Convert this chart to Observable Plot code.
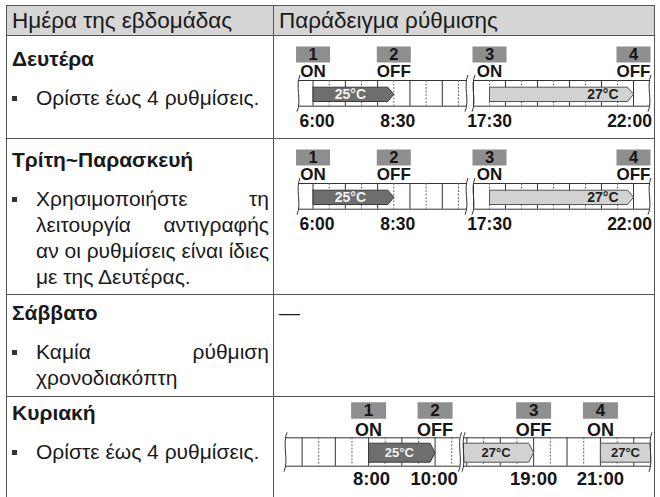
<!DOCTYPE html>
<html>
<head>
<meta charset="utf-8">
<script src="https://cdn.jsdelivr.net/npm/d3@7"></script>
<script src="https://cdn.jsdelivr.net/npm/@observablehq/plot@0.6"></script>
<style>
html, body { margin: 0; padding: 0; background: #fff; width: 660px; height: 497px; overflow: hidden; }
body { position: relative; font-family: "Liberation Sans", Arial, sans-serif; color: #1a1a1a; }
#tbl { position: absolute; left: 6px; top: 5px; border-collapse: collapse; table-layout: fixed; width: 649px; }
#tbl td { border: 1px solid #555; padding: 0; vertical-align: top; overflow: hidden; }
#tbl tr.hd td { background: #d6d6d6; font-size: 22.5px; line-height: 29px; padding-left: 5px; white-space: nowrap; }
.ttl { font-weight: bold; font-size: 21px; line-height: 26px; padding-left: 5px; white-space: nowrap; }
.bl { position: relative; margin-top: 13px; padding-left: 29px; width: 233px; font-size: 21px; line-height: 26px; }
.bl .sq { position: absolute; left: 5px; top: 11px; width: 5px; height: 5px; background: #333; }
.bl .j { text-align: justify; text-align-last: justify; white-space: nowrap; }
.bl .l { text-align: left; white-space: nowrap; }
.dash { font-size: 21px; line-height: 26px; padding-left: 5px; }
.dg { position: absolute; left: 275px; }
</style>
</head>
<body>
<table id="tbl"><colgroup><col style="width:267px"><col style="width:381px"></colgroup><tbody></tbody></table>
<script>
// ---------- table content ----------
const headers = ["Ημέρα της εβδομάδας", "Παράδειγμα ρύθμισης"];
const days = ["Δευτέρα", "Τρίτη~Παρασκευή", "Σάββατο", "Κυριακή"];
const notes = [
  [["Ορίστε έως 4 ρυθμίσεις.", "l"]],
  [["Χρησιμοποιήστε τη", "j"], ["λειτουργία αντιγραφής", "j"], ["αν οι ρυθμίσεις είναι ίδιες", "j"], ["με της Δευτέρας.", "l"]],
  [["Καμία ρύθμιση", "j"], ["χρονοδιακόπτη", "l"]],
  [["Ορίστε έως 4 ρυθμίσεις.", "l"]]
];
const saturdayNote = "—";

// layout (styling only)
const rowHeights = [30, 103, 156, 102, 120];
const titlePad = [10, 8, 5, 3];

const tbody = document.querySelector("#tbl tbody");
{
  const tr = document.createElement("tr");
  tr.className = "hd"; tr.style.height = rowHeights[0] + "px";
  headers.forEach(h => { const td = document.createElement("td"); td.textContent = h; tr.appendChild(td); });
  tbody.appendChild(tr);
}
days.forEach((d, i) => {
  const tr = document.createElement("tr");
  tr.style.height = rowHeights[i + 1] + "px";
  const td = document.createElement("td");
  const t = document.createElement("div");
  t.className = "ttl"; t.style.paddingTop = titlePad[i] + "px"; t.textContent = d;
  td.appendChild(t);
  const bl = document.createElement("div"); bl.className = "bl";
  const sq = document.createElement("span"); sq.className = "sq"; bl.appendChild(sq);
  notes[i].forEach(([txt, cls]) => { const ln = document.createElement("div"); ln.className = cls; ln.textContent = txt; bl.appendChild(ln); });
  td.appendChild(bl);
  tr.appendChild(td);
  const td2 = document.createElement("td");
  if (i === 2) { const s = document.createElement("div"); s.className = "dash"; s.style.paddingTop = titlePad[i] + "px"; s.textContent = saturdayNote; td2.appendChild(s); }
  tr.appendChild(td2);
  tbody.appendChild(tr);
});

// ---------- timer diagrams data ----------
const weekdayNumbers = ["1", "2", "3", "4"];
const weekdayStates = ["ON", "OFF", "ON", "OFF"];
const weekdayTimes = [6, 8.5, 17.5, 22];
const weekdayTimeLabels = ["6:00", "8:30", "17:30", "22:00"];
const weekdayBars = [
  { from: 6, to: 8.5, temp: "25°C", tone: "dark", tip: true },
  { from: 17.5, to: 22, temp: "27°C", tone: "light", tip: true }
];
const weekdaySegments = [[5.55, 10.75], [17.0, 22.5]];
const weekdayGrid = [6, 6.5, 7, 7.5, 8, 8.5, 9, 9.5, 10, 10.5, 17, 17.5, 18, 18.5, 19, 19.5, 20, 20.5, 21, 21.5, 22];

const sundayNumbers = ["1", "2", "3", "4"];
const sundayStates = ["ON", "OFF", "OFF", "ON"];
const sundayTimes = [8, 10, 19, 21];
const sundayTimeLabels = ["8:00", "10:00", "19:00", "21:00"];
const sundayBars = [
  { from: 8, to: 10, temp: "25°C", tone: "dark", tip: true },
  { from: 16.9, to: 19, temp: "27°C", tone: "light", tip: true },
  { from: 21, to: 22.5, temp: "27°C", tone: "light", tip: false }
];
const sundaySegments = [[5.5, 10.75], [16.9, 22.5]];
const sundayGrid = [6, 6.5, 7, 7.5, 8, 8.5, 9, 9.5, 10, 10.5, 17, 17.5, 18, 18.5, 19, 19.5, 20, 20.5, 21, 21.5, 22];

// ---------- styles / layout per diagram ----------
const OFFX = 275;
const weekdayLayout = {
  H: 103, xRangePage: [298, 466, 473, 649],
  boxY: 19, boxW: 34, boxH: 16, digitY: 19, digitSize: 16.5,
  stateY: 36.5, stateSize: 17, stripTop: 45, stripBot: 70.7,
  barTop: 51.7, barBot: 66, barSize: 14, timeY: 86, timeSize: 17.5, tip: 6,
  timeDx: [4, 4, 0, -4], barAlign: ["middle", "end"]
};
const sundayLayout = {
  H: 101, xRangePage: [285, 459.5, 463, 650],
  boxY: 14, boxW: 35, boxH: 16.6, digitY: 14, digitSize: 17,
  stateY: 33.5, stateSize: 18, stripTop: 41.3, stripBot: 69.7,
  barTop: 46.7, barBot: 65.7, barSize: 13, timeY: 82.3, timeSize: 18.5, tip: 5,
  timeDx: [3, -1, 0, 0], barAlign: ["middle", "middle", "middle"]
};

function diagram(numbers, states, times, timeLabels, bars, segments, grid, L) {
  const domain = [segments[0][0], segments[0][1], segments[1][0], segments[1][1]];
  const range = L.xRangePage.map(v => v - OFFX);
  const xs = d3.scaleLinear().domain(domain).range(range);
  const mid = (L.barTop + L.barBot) / 2;
  const stripMid = (L.stripTop + L.stripBot) / 2;
  const events = numbers.map((n, i) => ({ n, state: states[i], t: times[i], label: timeLabels[i] }));

  const polys = [];
  const barLabels = [];
  bars.forEach((b, i) => {
    const bodyEnd = b.tip ? xs.invert(xs(b.to) - L.tip) : b.to;
    const pts = b.tip
      ? [[b.from, L.barTop], [bodyEnd, L.barTop], [b.to, mid], [bodyEnd, L.barBot], [b.from, L.barBot], [b.from, L.barTop]]
      : [[b.from, L.barTop], [b.to, L.barTop], [b.to, L.barBot], [b.from, L.barBot], [b.from, L.barTop]];
    pts.forEach(p => polys.push({ bar: i, tone: b.tone, x: p[0], y: p[1] }));
    const align = L.barAlign[i];
    barLabels.push({ tone: b.tone, temp: b.temp, x: align === "end" ? bodyEnd : (b.from + bodyEnd) / 2, anchor: align });
  });

  const edges = segments.flat();
  const stripLines = segments.flatMap(s => [{ x1: s[0], x2: s[1], y: L.stripTop }, { x1: s[0], x2: s[1], y: L.stripBot }]);
  const waveH = L.stripBot - L.stripTop + 11;
  const wave = { draw(ctx) {
    ctx.moveTo(1.5, -waveH / 2);
    ctx.bezierCurveTo(-3.5, -waveH / 5, 3.5, waveH / 5, -1.5, waveH / 2);
  } };
  const box = { draw(ctx) {
    ctx.moveTo(-L.boxW / 2, -L.boxH / 2); ctx.lineTo(L.boxW / 2, -L.boxH / 2);
    ctx.lineTo(L.boxW / 2, L.boxH / 2); ctx.lineTo(-L.boxW / 2, L.boxH / 2); ctx.closePath();
  } };
  const font = "'Liberation Sans', Arial, sans-serif";
  const ink = "#151515";

  return Plot.plot({
    width: 378, height: L.H,
    margin: 0,
    style: { background: "transparent", overflow: "visible" },
    x: { type: "linear", domain, range, axis: null },
    y: { type: "linear", domain: [0, L.H], range: [0, L.H], axis: null },
    marks: [
      Plot.ruleY(stripLines, { x1: "x1", x2: "x2", y: "y", stroke: "#333", strokeWidth: 1 }),
      Plot.ruleX(grid.filter(t => t % 1 === 0), { x: d => d, y1: L.stripTop, y2: L.stripBot, stroke: "#333", strokeWidth: 1 }),
      Plot.ruleX(grid.filter(t => t % 1 !== 0), { x: d => d, y1: L.stripTop, y2: L.stripBot, stroke: "#666", strokeWidth: 1, strokeDasharray: "2,1.5" }),
      Plot.line(polys.filter(d => d.tone === "dark"), { x: "x", y: "y", z: "bar", fill: "#6e6e6e", stroke: "#3a3a3a", strokeWidth: 1, curve: "linear" }),
      Plot.line(polys.filter(d => d.tone === "light"), { x: "x", y: "y", z: "bar", fill: "#d2d2d2", stroke: "#555", strokeWidth: 1, curve: "linear" }),
      Plot.text(barLabels.filter(d => d.tone === "dark"), { x: "x", y: mid, text: "temp", fill: "#f2f2f2", fontSize: L.barSize, fontWeight: "bold", fontFamily: font }),
      Plot.text(barLabels.filter(d => d.tone === "light" && d.anchor === "middle"), { x: "x", y: mid, text: "temp", fill: "#222", fontSize: L.barSize, fontWeight: "bold", fontFamily: font }),
      Plot.text(barLabels.filter(d => d.tone === "light" && d.anchor === "end"), { x: "x", y: mid, text: "temp", fill: "#222", fontSize: L.barSize, fontWeight: "bold", fontFamily: font, textAnchor: "end", dx: -9 }),
      Plot.dot(edges, { x: d => d, y: stripMid, symbol: wave, r: 10, fill: "none", stroke: "#333", strokeWidth: 1 }),
      Plot.dot(events, { x: "t", y: L.boxY, symbol: box, r: 10, fill: "#8e8e8e", stroke: "none" }),
      Plot.text(events, { x: "t", y: L.digitY, text: "n", fill: ink, fontSize: L.digitSize, fontWeight: "bold", fontFamily: font }),
      Plot.text(events, { x: "t", y: L.stateY, text: "state", fill: ink, fontSize: L.stateSize, fontWeight: "bold", fontFamily: font }),
      ...events.map((e, i) => Plot.text([e], { x: "t", y: L.timeY, text: "label", dx: L.timeDx[i], fill: ink, fontSize: L.timeSize, fontWeight: "bold", fontFamily: font }))
    ]
  });
}

function place(svg, top) {
  const div = document.createElement("div");
  div.className = "dg"; div.style.top = top + "px";
  div.appendChild(svg);
  document.body.appendChild(div);
}

const rowTops = [35, 138, 294, 396];
place(diagram(weekdayNumbers, weekdayStates, weekdayTimes, weekdayTimeLabels, weekdayBars, weekdaySegments, weekdayGrid, weekdayLayout), rowTops[0]);
place(diagram(weekdayNumbers, weekdayStates, weekdayTimes, weekdayTimeLabels, weekdayBars, weekdaySegments, weekdayGrid, weekdayLayout), rowTops[1]);
place(diagram(sundayNumbers, sundayStates, sundayTimes, sundayTimeLabels, sundayBars, sundaySegments, sundayGrid, sundayLayout), rowTops[3]);
</script>
</body>
</html>
